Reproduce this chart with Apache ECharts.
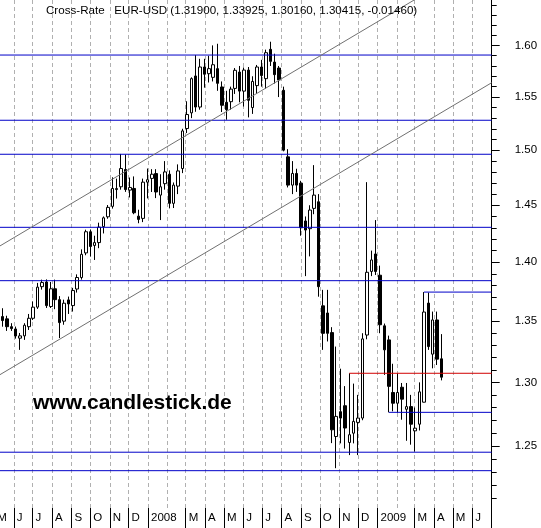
<!DOCTYPE html>
<html><head><meta charset="utf-8">
<script src="https://cdn.jsdelivr.net/npm/echarts@6/dist/echarts.min.js"></script>
<style>html,body{margin:0;padding:0;background:#fff;}#c{width:541px;height:528px;}</style>
</head><body><div id="c"></div>
<script>
// ---- weekly candles (week starting Monday) ----
const weeks = [
'2007-05-14','2007-05-21','2007-05-28','2007-06-04','2007-06-11','2007-06-18','2007-06-25',
'2007-07-02','2007-07-09','2007-07-16','2007-07-23','2007-07-30','2007-08-06','2007-08-13',
'2007-08-20','2007-08-27','2007-09-03','2007-09-10','2007-09-17','2007-09-24','2007-10-01',
'2007-10-08','2007-10-15','2007-10-22','2007-10-29','2007-11-05','2007-11-12','2007-11-19',
'2007-11-26','2007-12-03','2007-12-10','2007-12-17','2007-12-24','2007-12-31','2008-01-07',
'2008-01-14','2008-01-21','2008-01-28','2008-02-04','2008-02-11','2008-02-18','2008-02-25',
'2008-03-03','2008-03-10','2008-03-17','2008-03-24','2008-03-31','2008-04-07','2008-04-14',
'2008-04-21','2008-04-28','2008-05-05','2008-05-12','2008-05-19','2008-05-26','2008-06-02',
'2008-06-09','2008-06-16','2008-06-23','2008-06-30','2008-07-07','2008-07-14','2008-07-21',
'2008-07-28','2008-08-04','2008-08-11','2008-08-18','2008-08-25','2008-09-01','2008-09-08',
'2008-09-15','2008-09-22','2008-09-29','2008-10-06','2008-10-13','2008-10-20','2008-10-27',
'2008-11-03','2008-11-10','2008-11-17','2008-11-24','2008-12-01','2008-12-08','2008-12-15',
'2008-12-22','2008-12-29','2009-01-05','2009-01-12','2009-01-19','2009-01-26','2009-02-02',
'2009-02-09','2009-02-16','2009-02-23','2009-03-02','2009-03-09','2009-03-16','2009-03-23',
'2009-03-30','2009-04-06','2009-04-13'];
const open = [
1.3538,1.3519,1.3454,1.3435,1.3359,1.3378,1.3454,1.3524,1.3617,1.3790,1.3830,1.3622,1.3772,1.3680,
1.3500,1.3678,1.3630,1.3770,1.3868,1.4080,1.4265,1.4145,1.4170,1.4310,1.4397,1.4490,1.4641,1.4666,
1.4823,1.4636,1.4651,1.4403,1.4383,1.4708,1.4742,1.4786,1.4591,1.4694,1.4780,1.4517,1.4672,1.4832,
1.5202,1.5350,1.5703,1.5405,1.5790,1.5725,1.5690,1.5774,1.5597,1.5450,1.5456,1.5583,1.5741,1.5557,
1.5760,1.5400,1.5610,1.5790,1.5677,1.5963,1.5838,1.5780,1.5565,1.4939,1.4681,1.4787,1.4699,1.4360,
1.4292,1.4472,1.4531,1.3628,1.3568,1.3405,1.2573,1.2767,1.2814,1.2527,1.2599,1.2683,1.2717,1.3385,
1.3920,1.4071,1.3888,1.3461,1.3345,1.2919,1.2834,1.2961,1.2786,1.2807,1.2617,1.2669,1.2842,1.3651,
1.3228,1.3510,1.31900];
const high = [
1.3608,1.3545,1.3483,1.3455,1.3402,1.3483,1.3560,1.3664,1.3822,1.3850,1.3852,1.3830,1.3850,1.3710,
1.3680,1.3706,1.3780,1.3895,1.4111,1.4283,1.4285,1.4230,1.4345,1.4400,1.4502,1.4752,1.4740,1.4966,
1.4960,1.4750,1.4760,1.4460,1.4740,1.4832,1.4826,1.4826,1.4780,1.4900,1.4815,1.4705,1.4870,1.5200,
1.5460,1.5690,1.5906,1.5870,1.5870,1.5900,1.6002,1.6018,1.5650,1.5560,1.5600,1.5780,1.5800,1.5785,
1.5790,1.5700,1.5810,1.5860,1.5960,1.6038,1.5920,1.5800,1.5600,1.5010,1.4900,1.4830,1.4720,1.4400,
1.4500,1.4863,1.4600,1.3763,1.3763,1.3450,1.3290,1.3110,1.2970,1.3073,1.2990,1.2900,1.3400,1.4708,
1.4100,1.4368,1.3970,1.3480,1.3380,1.3150,1.3073,1.2995,1.2995,1.2900,1.2800,1.3000,1.3744,1.3740,
1.3580,1.3580,1.33925];
const low = [
1.3454,1.3419,1.3419,1.3355,1.3263,1.3345,1.3427,1.3510,1.3602,1.3765,1.3610,1.3610,1.3600,1.3360,
1.3470,1.3560,1.3580,1.3740,1.3850,1.4060,1.4048,1.4019,1.4121,1.4250,1.4380,1.4470,1.4560,1.4640,
1.4620,1.4570,1.4420,1.4340,1.4350,1.4561,1.4619,1.4564,1.4368,1.4640,1.4472,1.4475,1.4600,1.4790,
1.5160,1.5300,1.5360,1.5380,1.5590,1.5640,1.5650,1.5560,1.5358,1.5285,1.5380,1.5530,1.5450,1.5410,
1.5307,1.5340,1.5530,1.5600,1.5580,1.5800,1.5630,1.5500,1.4990,1.4660,1.4600,1.4620,1.4230,1.3880,
1.4050,1.4420,1.3705,1.3263,1.3332,1.2522,1.2330,1.2520,1.2480,1.2430,1.2520,1.2430,1.2700,1.3350,
1.3880,1.3890,1.3400,1.3060,1.2762,1.2770,1.2760,1.2704,1.2540,1.2510,1.2457,1.2620,1.2840,1.3263,
1.3113,1.3140,1.30160];
const close = [
1.3505,1.3454,1.3438,1.3377,1.3378,1.3466,1.3524,1.3617,1.3786,1.3825,1.3630,1.3772,1.3680,1.3488,
1.3650,1.3644,1.3757,1.3868,1.4068,1.4265,1.4136,1.4170,1.4306,1.4388,1.4481,1.4651,1.4650,1.4832,
1.4641,1.4660,1.4433,1.4374,1.4708,1.4730,1.4780,1.4619,1.4666,1.4801,1.4517,1.4681,1.4810,1.5180,
1.5334,1.5677,1.5405,1.5790,1.5720,1.5774,1.5812,1.5632,1.5422,1.5380,1.5576,1.5758,1.5557,1.5760,
1.5469,1.5650,1.5790,1.5707,1.5930,1.5845,1.5716,1.5665,1.5001,1.4681,1.4787,1.4681,1.4300,1.4280,
1.4457,1.4591,1.3790,1.3399,1.3399,1.2625,1.2730,1.2717,1.2639,1.2587,1.2691,1.2717,1.3353,1.3913,
1.4019,1.3920,1.3470,1.3263,1.2968,1.2834,1.2919,1.2866,1.2807,1.2669,1.2638,1.2924,1.3576,1.3290,
1.3510,1.31875,1.30415];

// ---- axes ----
const axisStart = '2007-05-10', axisEnd = '2009-07-02';
const priceMin = 1.2031, priceMax = 1.6456;
const majorTicks = [1.25,1.30,1.35,1.40,1.45,1.50,1.55,1.60];
const minorTicks = [1.21,1.22,1.23,1.24,1.26,1.27,1.28,1.29,1.31,1.32,1.33,1.34,1.36,1.37,1.38,1.39,
  1.41,1.42,1.43,1.44,1.46,1.47,1.48,1.49,1.51,1.52,1.53,1.54,1.56,1.57,1.58,1.59,1.61,1.62,1.63,1.64];
const monthStarts = ['2007-06-01','2007-07-01','2007-08-01','2007-09-01','2007-10-01','2007-11-01','2007-12-01',
  '2008-01-01','2008-02-01','2008-03-01','2008-04-01','2008-05-01','2008-06-01','2008-07-01','2008-08-01',
  '2008-09-01','2008-10-01','2008-11-01','2008-12-01','2009-01-01','2009-02-01','2009-03-01','2009-04-01',
  '2009-05-01','2009-06-01','2009-07-01'];
const firstMonthLabel = '2007-05-01';
const monthLetters = ['J','F','M','A','M','J','J','A','S','O','N','D'];

// ---- drawn levels ----
const levelPrices = [1.5907,1.5280,1.4963,1.4304,1.3841,1.2452,1.2311];
const segStart = ['2009-03-16','2009-01-19','2008-11-17'];
const segPrice = [1.3744,1.2762,1.3073];
const segColor = ['#0000c8','#0000c8','#d00000'];
const trendUpper = [['2007-05-10',1.4141],['2009-07-02',1.6930]];
const trendLower = [['2007-05-10',1.3062],['2009-07-02',1.5638]];

const titleName = 'Cross-Rate   EUR-USD';
const watermark = 'www.candlestick.de';

const T = s => { const p = s.split('-').map(Number); return Date.UTC(p[0], p[1]-1, p[2]); };
const L = Math.log;
const FONT = '"Liberation Sans", Arial, sans-serif';
const BLUE = '#0000c8';
const xMin = T(axisStart), xMax = T(axisEnd);

const n = close.length;
const chg = close[n-1] - close[n-2];
const titleText = titleName + ' (' + [open[n-1], high[n-1], low[n-1], close[n-1]].map(v => v.toFixed(5)).join(', ') + ', ' + chg.toFixed(5) + ')';

const lineS = (pts, color) => ({
  type: 'line', xAxisIndex: 0, yAxisIndex: 0, data: pts, symbol: 'none', silent: true,
  lineStyle: { color: color, width: 1 }, z: 5, clip: true
});

const series = [{
  type: 'candlestick', xAxisIndex: 0, yAxisIndex: 0, barWidth: 3,
  encode: { x: 0, y: [1, 2, 3, 4] },
  data: weeks.map((w, i) => [T(w), L(open[i]), L(close[i]), L(low[i]), L(high[i])]),
  itemStyle: { color: '#ffffff', color0: '#000000', borderColor: '#000000', borderColor0: '#000000', borderWidth: 1 },
  z: 3
}];
levelPrices.forEach(p => series.push(lineS([[xMin, L(p)], [xMax, L(p)]], BLUE)));
segStart.forEach((d, i) => series.push(lineS([[T(d), L(segPrice[i])], [xMax, L(segPrice[i])]], segColor[i])));
[trendUpper, trendLower].forEach(tl => series.push(lineS(tl.map(q => [T(q[0]), L(q[1])]), '#707070')));

const months = monthStarts.map(T);
const sepVals = monthStarts.filter(s => s.slice(5, 7) !== '02').map(T);
const labelVals = monthStarts.filter(s => s.slice(5, 7) !== '02' && s !== axisEnd.slice(0, 7) + '-01').map(T);
const fmtMonth = v => { const d = new Date(v); const m = d.getUTCMonth(); return m === 0 ? String(d.getUTCFullYear()) : monthLetters[m]; };

const chart = echarts.init(document.getElementById('c'), null, { renderer: 'canvas', width: 541, height: 528 });
chart.setOption({
  animation: false,
  backgroundColor: '#ffffff',
  title: { text: titleText, left: 46, top: 5, padding: 0,
    textStyle: { fontSize: 11.6, fontWeight: 'normal', color: '#000', fontFamily: FONT } },
  grid: { left: 0, right: 49.3, top: 0, bottom: 20, containLabel: false },
  xAxis: [
    { type: 'value', min: xMin, max: xMax, scale: true, axisLine: { show: false },
      axisTick: { show: false, customValues: months }, axisLabel: { show: false },
      splitLine: { show: true, lineStyle: { color: '#b0b0b0', width: 1, type: [4, 3] } } },
    { type: 'value', min: xMin, max: xMax, scale: true, position: 'bottom', axisLine: { show: false },
      axisTick: { show: true, length: 20, customValues: sepVals, lineStyle: { color: '#000', width: 1 } },
      axisLabel: { show: true, customValues: labelVals, formatter: fmtMonth, align: 'left', margin: 4,
        padding: [0, 0, 0, 3], fontSize: 11.5, color: '#000', fontFamily: FONT, hideOverlap: false },
      splitLine: { show: false } }
  ],
  yAxis: [
    { type: 'value', min: L(priceMin), max: L(priceMax), position: 'right',
      axisLine: { show: true, lineStyle: { color: '#000', width: 1 } },
      axisTick: { show: true, length: 8, customValues: majorTicks.map(L), lineStyle: { color: '#000' } },
      axisLabel: { show: true, customValues: majorTicks.map(L), formatter: v => Math.exp(v).toFixed(2),
        margin: 23, fontSize: 11.5, color: '#000', fontFamily: FONT },
      splitLine: { show: false } },
    { type: 'value', min: L(priceMin), max: L(priceMax), position: 'right', offset: 0,
      axisLine: { show: false },
      axisTick: { show: true, length: 5, customValues: minorTicks.map(L), lineStyle: { color: '#000' } },
      axisLabel: { show: false }, splitLine: { show: false } }
  ],
  series: series
});

const mx = chart.convertToPixel({ xAxisIndex: 1 }, T(firstMonthLabel));
const gridBottom = chart.convertToPixel({ yAxisIndex: 0 }, L(priceMin));
chart.setOption({
  graphic: [
    { type: 'text', left: 33, top: 393, z: 10, silent: true,
      style: { text: watermark, fill: '#000', font: 'bold 21px ' + FONT } },
    { type: 'text', x: mx + 3, y: gridBottom + 4, silent: true,
      style: { text: monthLetters[new Date(T(firstMonthLabel)).getUTCMonth()], fill: '#000', font: '11.5px ' + FONT, verticalAlign: 'top' } }
  ]
});
</script>
</body></html>
